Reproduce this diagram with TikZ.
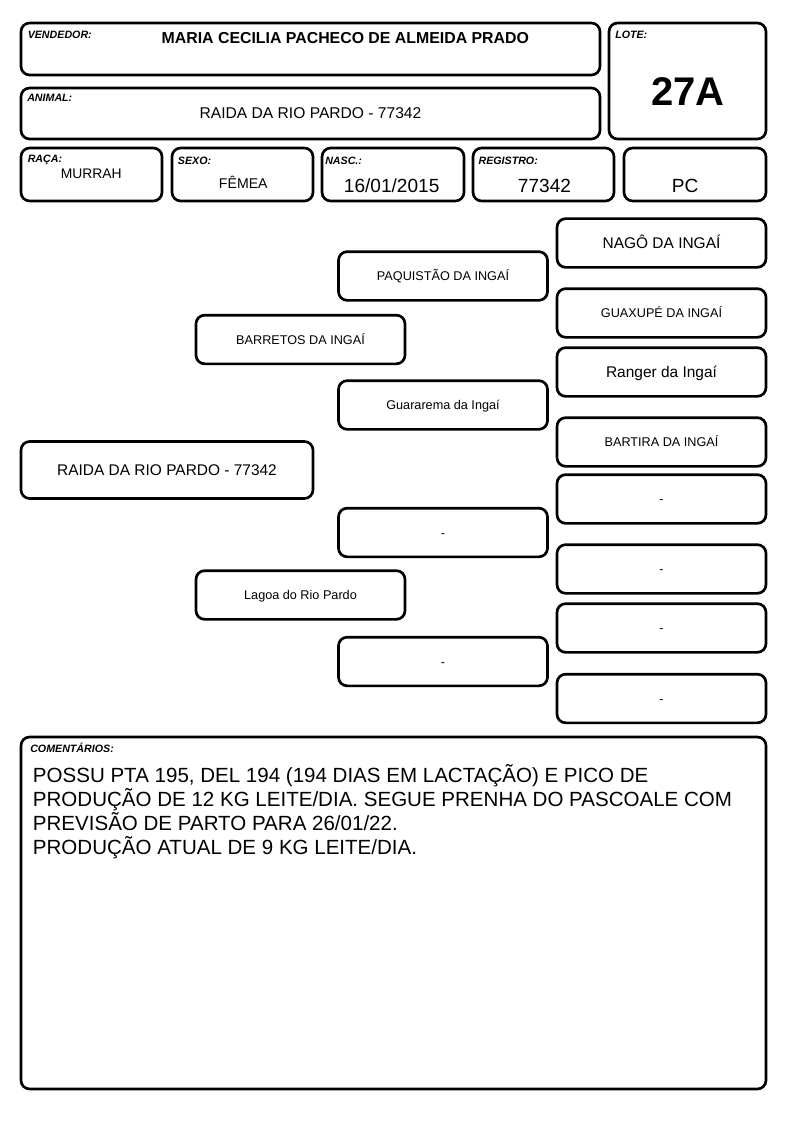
\documentclass[tikz,border=0pt]{standalone}
\usepackage{fontspec}
\setmainfont{Liberation Sans}

\tikzset{
  cell/.style={draw,line width=2pt,rounded corners=6.5pt,inner sep=0pt},
  tag/.style={inner sep=0pt,anchor=base west,font=\fontsize{8}{9}\selectfont\bfseries\itshape},
  val/.style={inner sep=0pt,anchor=base},
  gen/.style={cell,minimum width=156.75pt,minimum height=36.5pt,text depth=0pt},
  sm/.style={font=\fontsize{9.5}{11}\selectfont,text height=6.8pt},
  lg/.style={font=\fontsize{11.6}{13}\selectfont,text height=8.3pt},
  obs/.style={inner sep=0pt,anchor=base west,font=\fontsize{15.4}{18}\selectfont}
}

\begin{document}
\begin{tikzpicture}[x=0.75pt,y=-0.75pt]
 		\useasboundingbox (0,0) rectangle (794,1123);

 		% header
 		\node[cell,minimum width=434.25pt,minimum height=39pt] (vend) at (310.5,49) {};
 		\node[cell,minimum width=117.75pt,minimum height=87pt] (lote) at (687.5,81) {};
 		\node[cell,minimum width=434.25pt,minimum height=38.25pt] (animal) at (310.5,113.5) {};

 		\node[tag] (vendL) at (27.5,39) {VENDEDOR:};
 		\node[tag] (loteL) at (615,39) {LOTE:};
 		\node[tag] (animalL) at (27,102) {ANIMAL:};

 		\node[val,font=\fontsize{11.9}{14}\selectfont\bfseries] (vendT) at (345.3,43.3) {MARIA CECILIA PACHECO DE ALMEIDA PRADO};
 		\node[val,font=\fontsize{30}{34}\selectfont\bfseries] (loteT) at (688,105.5) {27A};
 		\node[val,font=\fontsize{11.7}{14}\selectfont] (animalT) at (310.5,119) {RAIDA DA RIO PARDO - 77342};

 		\node[cell,minimum width=105.75pt,minimum height=39.75pt] (raca) at (91.5,174.5) {};
 		\node[cell,minimum width=105.75pt,minimum height=39.75pt] (sexo) at (242.5,174.5) {};
 		\node[cell,minimum width=106.5pt,minimum height=39.75pt] (nasc) at (393,174.5) {};
 		\node[cell,minimum width=105.75pt,minimum height=39.75pt] (reg) at (543.5,174.5) {};
 		\node[cell,minimum width=106.5pt,minimum height=39.75pt] (pc) at (695,174.5) {};

 		\node[tag] (racaL) at (27.5,162.5) {RAÇA:};
 		\node[tag] (sexoL) at (177.7,164.3) {SEXO:};
 		\node[tag] (nascL) at (325,164.3) {NASC.:};
 		\node[tag] (regL) at (478.3,164.3) {REGISTRO:};

 		\node[val,font=\fontsize{10.4}{12}\selectfont] (racaT) at (91.2,178.3) {MURRAH};
 		\node[val,font=\fontsize{10.6}{12}\selectfont] (sexoT) at (243.3,189) {FÊMEA};
 		\node[val,font=\fontsize{14.3}{17}\selectfont] (nascT) at (391.7,192.7) {16/01/2015};
 		\node[val,font=\fontsize{14.3}{17}\selectfont] (regT) at (544.5,192.7) {77342};
 		\node[val,font=\fontsize{14.3}{17}\selectfont] (pcT) at (685.2,192.7) {PC};

 		% pedigree
 		\node[cell,lg,text depth=0pt,minimum width=219pt,minimum height=42.75pt] (p0) at (167,470) {RAIDA DA RIO PARDO - 77342};

 		\node[gen,sm] (p1) at (300.5,339.5) {BARRETOS DA INGAÍ};
 		\node[gen,sm] (p2) at (300.5,595) {Lagoa do Rio Pardo};

 		\node[gen,sm] (p11) at (443,276) {PAQUISTÃO DA INGAÍ};
 		\node[gen,sm] (p12) at (443,405) {Guararema da Ingaí};
 		\node[gen,sm] (p21) at (443,532.5) {-};
 		\node[gen,sm] (p22) at (443,661.5) {-};

 		\node[gen,lg] (p111) at (661.5,243) {NAGÔ DA INGAÍ};
 		\node[gen,sm] (p112) at (661.5,313) {GUAXUPÉ DA INGAÍ};
 		\node[gen,lg] (p121) at (661.5,372) {Ranger da Ingaí};
 		\node[gen,sm] (p122) at (661.5,442) {BARTIRA DA INGAÍ};
 		\node[gen,sm] (p211) at (661.5,499) {-};
 		\node[gen,sm] (p212) at (661.5,569) {-};
 		\node[gen,sm] (p221) at (661.5,628) {-};
 		\node[gen,sm] (p222) at (661.5,698.5) {-};

 		% comments
 		\node[cell,minimum width=558.75pt,minimum height=264pt] (com) at (393.5,913) {};
 		\node[tag] (comL) at (30,752.7) {COMENTÁRIOS:};
 		\node[obs] (c1) at (32.7,782) {POSSU PTA 195, DEL 194 (194 DIAS EM LACTAÇÃO) E PICO DE};
 		\node[obs] (c2) at (32.7,806.3) {PRODUÇÃO DE 12 KG LEITE/DIA. SEGUE PRENHA DO PASCOALE COM};
 		\node[obs] (c3) at (32.7,830.6) {PREVISÃO DE PARTO PARA 26/01/22.};
 		\node[obs] (c4) at (32.7,854.9) {PRODUÇÃO ATUAL DE 9 KG LEITE/DIA.};
 	 \end{tikzpicture}
\end{document}
